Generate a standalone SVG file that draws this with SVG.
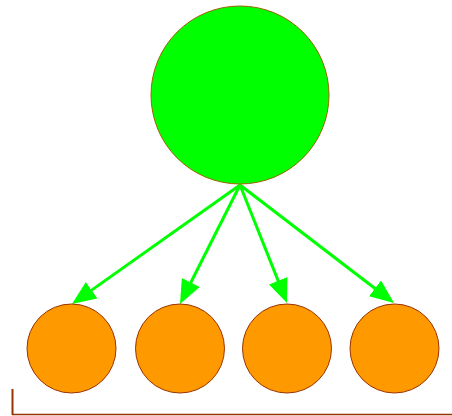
<svg xmlns="http://www.w3.org/2000/svg" width="452" height="416" viewBox="0 0 452 416">
<style>
.child{fill:#ff9900;stroke:#993300;stroke-width:1}
.root{fill:#00ff00;stroke:#996600;stroke-width:1}
.edge{stroke:#00ff00;stroke-width:3;fill:none;marker-end:url(#ah)}
.axis{stroke:#993300;fill:none}
</style>
<defs>
<marker id="ah" viewBox="0 0 24 20" refX="12" refY="10" markerWidth="24" markerHeight="20" markerUnits="userSpaceOnUse" orient="auto">
<path d="M0,0 L24,10 L0,20 z" fill="#00ff00"/>
</marker>
</defs>
<rect width="452" height="416" fill="#ffffff"/>
<g id="axes">
<line class="axis" x1="12.5" y1="389" x2="12.5" y2="415" stroke-width="2"/>
<line class="axis" x1="12" y1="414.5" x2="452" y2="414.5" stroke-width="1.5"/>
</g>
<g id="connectors">
<line class="edge" x1="240" y1="185" x2="81.8" y2="297.1"/>
<line class="edge" x1="240" y1="185" x2="185.4" y2="293.3"/>
<line class="edge" x1="240" y1="185" x2="282.6" y2="291.9"/>
<line class="edge" x1="240" y1="185" x2="384.5" y2="295.7"/>
</g>
<g id="root"><circle class="root" cx="240" cy="95" r="89"/></g>
<g id="child1"><circle class="child" cx="71.5" cy="348.5" r="44.5"/></g>
<g id="child2"><circle class="child" cx="180" cy="348.5" r="44.5"/></g>
<g id="child3"><circle class="child" cx="287" cy="348.5" r="44.5"/></g>
<g id="child4"><circle class="child" cx="394.5" cy="348.5" r="44.5"/></g>
</svg>
